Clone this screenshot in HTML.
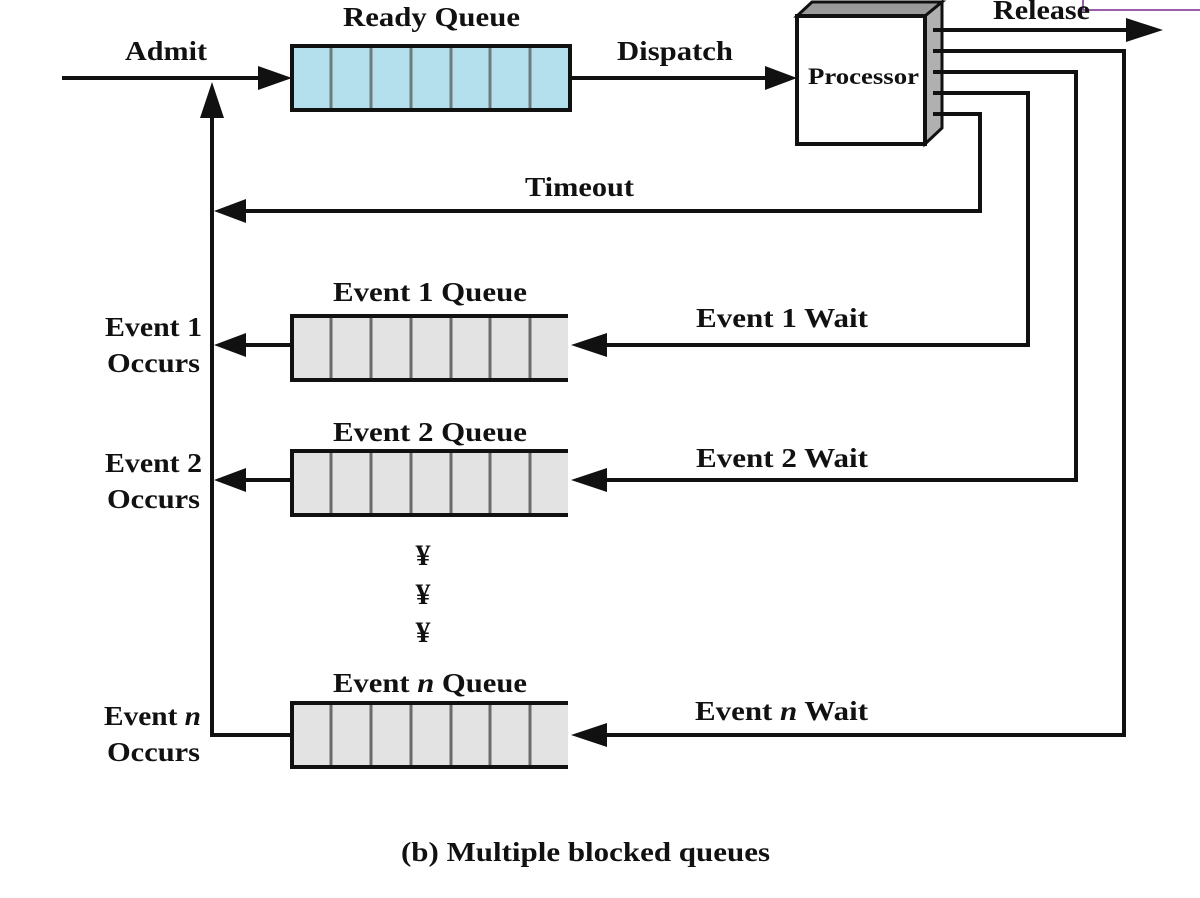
<!DOCTYPE html>
<html><head><style>
html,body{margin:0;padding:0;background:#fff;width:1200px;height:898px;overflow:hidden}
text{font-family:"Liberation Serif",serif;font-weight:bold;font-size:27px;fill:#111}
</style></head><body>
<svg width="1200" height="898" viewBox="0 0 1200 898" xmlns="http://www.w3.org/2000/svg">
<g stroke="#111" stroke-width="4" fill="none">
<line x1="62" y1="78" x2="270" y2="78"/>
<line x1="570" y1="78" x2="775" y2="78"/>
<line x1="212" y1="110" x2="212" y2="737"/>
<line x1="212" y1="735" x2="292" y2="735"/>
<polyline points="942,114 980,114 980,211 240,211"/>
<polyline points="942,93 1028,93 1028,345 600,345"/>
<polyline points="942,72 1076,72 1076,480 600,480"/>
<polyline points="942,51 1124,51 1124,735 600,735"/>
<line x1="942" y1="30" x2="1130" y2="30"/>
<line x1="292" y1="345" x2="240" y2="345"/>
<line x1="292" y1="480" x2="240" y2="480"/>
</g>
<g fill="#111">
<polygon points="292,78 258,66 258,90"/>
<polygon points="797,78 765,66 765,90"/>
<polygon points="1163,30 1126,18 1126,42"/>
<polygon points="212,82 200,118 224,118"/>
<polygon points="214,211 246,199 246,223"/>
<polygon points="214,345 246,333 246,357"/>
<polygon points="214,480 246,468 246,492"/>
<polygon points="571,345 607,333 607,357"/>
<polygon points="571,480 607,468 607,492"/>
<polygon points="571,735 607,723 607,747"/>
</g>
<rect x="292" y="46" width="278" height="64" fill="#b3e0ec"/>
<g stroke="#6b7b7e" stroke-width="3">
<path d="M331 47V109M371 47V109M411 47V109M451 47V109M490 47V109M530 47V109"/>
</g>
<rect x="292" y="46" width="278" height="64" fill="none" stroke="#111" stroke-width="4"/>
<rect x="292" y="316" width="276" height="64" fill="#e3e3e3"/>
<rect x="292" y="451" width="276" height="64" fill="#e3e3e3"/>
<rect x="292" y="703" width="276" height="64" fill="#e3e3e3"/>
<g stroke="#6b6b6b" stroke-width="3">
<path d="M331 317V379M371 317V379M411 317V379M451 317V379M490 317V379M530 317V379"/>
<path d="M331 452V514M371 452V514M411 452V514M451 452V514M490 452V514M530 452V514"/>
<path d="M331 704V766M371 704V766M411 704V766M451 704V766M490 704V766M530 704V766"/>
</g>
<g stroke="#111" stroke-width="4" fill="none">
<polyline points="568,316 292,316 292,380 568,380"/>
<polyline points="568,451 292,451 292,515 568,515"/>
<polyline points="568,703 292,703 292,767 568,767"/>
</g>
<polygon points="797,16 812,2 942,2 925,16" fill="#9a9a9a" stroke="#111" stroke-width="3"/>
<polygon points="925,16 942,2 942,128 925,144" fill="#b0b0b0" stroke="#111" stroke-width="3"/>
<rect x="797" y="16" width="128" height="128" fill="#fff" stroke="#111" stroke-width="4"/>
<g stroke="#111" stroke-width="4"><line x1="933" y1="30" x2="942" y2="30"/><line x1="933" y1="51" x2="942" y2="51"/><line x1="933" y1="72" x2="942" y2="72"/><line x1="933" y1="93" x2="942" y2="93"/><line x1="933" y1="114" x2="942" y2="114"/></g>
<text x="808" y="84" textLength="111" lengthAdjust="spacingAndGlyphs" style="font-size:23px">Processor</text>
<polyline points="1083,0 1083,10 1200,10" fill="none" stroke="#7a2a8a" stroke-width="1.5"/>
<text x="125" y="60" textLength="82" lengthAdjust="spacingAndGlyphs">Admit</text>
<text x="343" y="26" textLength="177" lengthAdjust="spacingAndGlyphs">Ready Queue</text>
<text x="617" y="60" textLength="116" lengthAdjust="spacingAndGlyphs">Dispatch</text>
<text x="993" y="19" textLength="97" lengthAdjust="spacingAndGlyphs">Release</text>
<text x="525" y="196" textLength="109" lengthAdjust="spacingAndGlyphs">Timeout</text>
<text x="333" y="301" textLength="194" lengthAdjust="spacingAndGlyphs">Event 1 Queue</text>
<text x="333" y="441" textLength="194" lengthAdjust="spacingAndGlyphs">Event 2 Queue</text>
<text x="333" y="692" textLength="194" lengthAdjust="spacingAndGlyphs">Event <tspan font-style="italic">n</tspan> Queue</text>
<text x="696" y="327" textLength="172" lengthAdjust="spacingAndGlyphs">Event 1 Wait</text>
<text x="696" y="467" textLength="172" lengthAdjust="spacingAndGlyphs">Event 2 Wait</text>
<text x="695" y="720" textLength="173" lengthAdjust="spacingAndGlyphs">Event <tspan font-style="italic">n</tspan> Wait</text>
<text x="105" y="336" textLength="97" lengthAdjust="spacingAndGlyphs">Event 1</text>
<text x="107" y="372" textLength="93" lengthAdjust="spacingAndGlyphs">Occurs</text>
<text x="105" y="472" textLength="97" lengthAdjust="spacingAndGlyphs">Event 2</text>
<text x="107" y="508" textLength="93" lengthAdjust="spacingAndGlyphs">Occurs</text>
<text x="104" y="725" textLength="97" lengthAdjust="spacingAndGlyphs">Event <tspan font-style="italic">n</tspan></text>
<text x="107" y="761" textLength="93" lengthAdjust="spacingAndGlyphs">Occurs</text>
<text x="423" y="565" text-anchor="middle" style="font-size:30px">¥</text>
<text x="423" y="604" text-anchor="middle" style="font-size:30px">¥</text>
<text x="423" y="642" text-anchor="middle" style="font-size:30px">¥</text>
<text x="401" y="861" textLength="369" lengthAdjust="spacingAndGlyphs">(b) Multiple blocked queues</text>
</svg>
</body></html>
